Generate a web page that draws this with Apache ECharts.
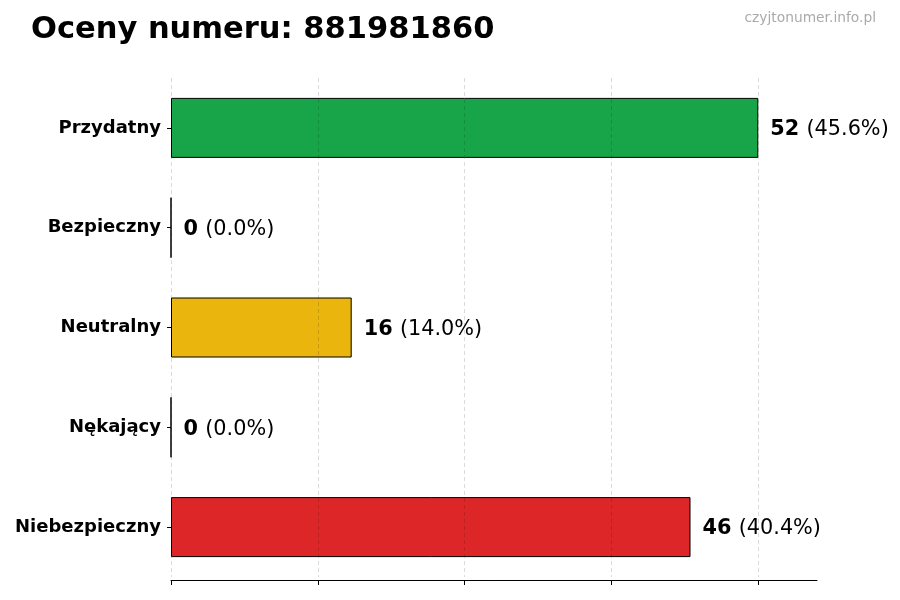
<!DOCTYPE html>
<html><head><meta charset="utf-8">
<script src="https://cdn.jsdelivr.net/npm/echarts@6/dist/echarts.min.js"></script>
<style>html,body{margin:0;padding:0;background:#fff}#c{width:900px;height:600px}</style>
</head><body><div id="c"></div>
<script>
const categories = ["Przydatny", "Bezpieczny", "Neutralny", "Nękający", "Niebezpieczny"];
const counts = [52, 0, 16, 0, 46];
const percents = ["45.6", "0.0", "14.0", "0.0", "40.4"];
const colors = ["#18a54a", "#18a54a", "#eab50c", "#7f7f7f", "#dc2627"];
const xTicks = [0, 13, 26, 39, 52];
const xMax = 57.2;

const F = "DejaVu Sans";
const chart = echarts.init(document.getElementById('c'), null, {renderer: 'canvas'});
chart.setOption({
  animation: false,
  backgroundColor: '#fff',
  title: [
    {text: 'Oceny numeru: 881981860', left: 31, top: 15, padding: 0,
     textStyle: {fontFamily: F, fontWeight: 'bold', fontSize: 30.5, color: '#000'}},
    {text: 'czyjtonumer.info.pl', right: 24, top: 11, padding: 0,
     textStyle: {fontFamily: F, fontWeight: 'normal', fontSize: 13.8, color: '#aaaaaa'}}
  ],
  grid: {left: 171, right: 83, top: 78, bottom: 23, containLabel: false},
  xAxis: {
    type: 'value', min: 0, max: xMax, interval: 13, offset: 3,
    axisLine: {show: true, lineStyle: {color: '#000', width: 1}},
    axisTick: {show: true, length: 5, customValues: xTicks, lineStyle: {color: '#000'}},
    axisLabel: {show: false},
    splitLine: {show: false}
  },
  yAxis: {
    type: 'category', data: categories, inverse: true,
    axisLine: {show: false},
    axisTick: {show: true, alignWithLabel: true, length: 4, lineStyle: {color: '#000'}},
    axisLabel: {fontFamily: F, fontWeight: 'bold', fontSize: 18, color: '#000', margin: 10, padding: [2, 0, 0, 0]}
  },
  series: [{
    type: 'bar',
    data: counts.map((v, i) => ({value: v, itemStyle: {color: colors[i]}})),
    barWidth: 60,
    itemStyle: {borderColor: '#000', borderWidth: 1},
    label: {
      show: true, position: 'right', distance: 12, offset: [0, 2],
      formatter: p => '{b|' + counts[p.dataIndex] + ' }{n|(' + percents[p.dataIndex] + '%)}',
      rich: {
        b: {fontFamily: F, fontWeight: 'bold', fontSize: 20.8, color: '#000'},
        n: {fontFamily: F, fontWeight: 'normal', fontSize: 20.8, color: '#000'}
      }
    },
    markLine: {
      silent: true, symbol: 'none', label: {show: false},
      lineStyle: {color: 'rgba(0,0,0,0.18)', type: [4, 3], width: 0.8},
      data: xTicks.map(v => ({xAxis: v}))
    }
  }]
});
</script></body></html>
